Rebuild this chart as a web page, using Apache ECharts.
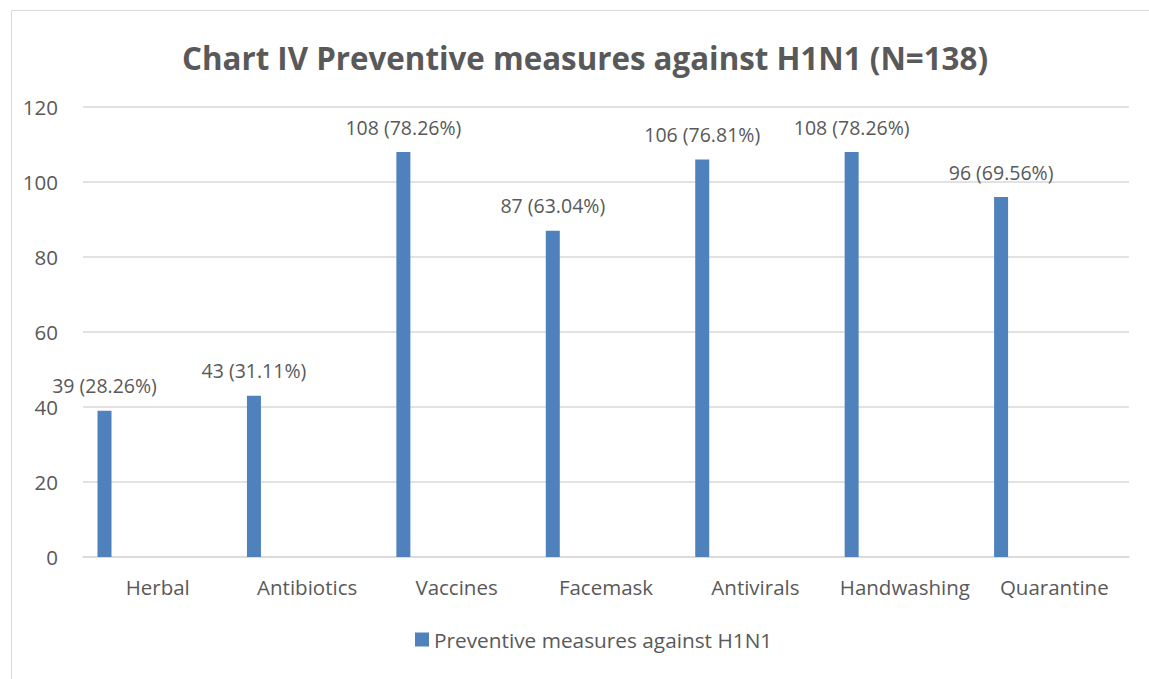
<!DOCTYPE html>
<html>
<head>
<meta charset="utf-8">
<script src="https://cdn.jsdelivr.net/npm/echarts@6/dist/echarts.min.js"></script>
<style>
  html, body { margin: 0; padding: 0; background: #fff; }
  #chart { width: 1149px; height: 679px; }
</style>
</head>
<body>
<div id="chart"></div>
<script>
var categories = ['Herbal', 'Antibiotics', 'Vaccines', 'Facemask', 'Antivirals', 'Handwashing', 'Quarantine'];
var counts = [39, 43, 108, 87, 106, 108, 96];
var percents = ['28.26%', '31.11%', '78.26%', '63.04%', '76.81%', '78.26%', '69.56%'];
var yTicks = [0, 20, 40, 60, 80, 100, 120];

var ink = '#595959';
var font = '"Open Sans", "Noto Sans", sans-serif';

var chart = echarts.init(document.getElementById('chart'), null, { renderer: 'svg' });
chart.setOption({
  animation: false,
  textStyle: { fontFamily: font },
  title: {
    text: 'Chart IV Preventive measures against H1N1 (N=138)',
    left: 177, top: 37,
    textStyle: { color: ink, fontSize: 31.3, fontWeight: 'bold', fontFamily: font }
  },
  graphic: [{
    type: 'rect', left: 9, top: 8,
    shape: { width: 1138, height: 669 },
    style: { fill: 'none', stroke: '#d9d9d9', lineWidth: 1 }
  }],
  legend: {
    data: ['Preventive measures against H1N1'],
    bottom: 24, left: 410,
    itemWidth: 14, itemHeight: 14, icon: 'rect', itemGap: 10,
    textStyle: { color: ink, fontSize: 20.8, fontFamily: font }
  },
  grid: { left: 83, right: 20, top: 107, bottom: 122, containLabel: false },
  xAxis: {
    type: 'category', data: categories,
    axisLine: { lineStyle: { color: '#d9d9d9', width: 1.5 } },
    axisTick: { show: false },
    axisLabel: { color: ink, fontSize: 20.5, margin: 19, interval: 0 }
  },
  yAxis: {
    type: 'value', min: yTicks[0], max: yTicks[yTicks.length - 1], interval: 20,
    axisLine: { show: false }, axisTick: { show: false },
    axisLabel: { color: ink, fontSize: 20.5, margin: 25 },
    splitLine: { lineStyle: { color: '#d9d9d9', width: 1.5 } }
  },
  series: [
    {
      name: 'Preventive measures against H1N1', type: 'bar',
      data: counts, barWidth: 14, barGap: '660%',
      itemStyle: { color: '#4f81bd' },
      label: {
        show: true, position: 'top', distance: 15, color: ink, fontSize: 19.5,
        formatter: function(p) { return p.value + ' (' + percents[p.dataIndex] + ')'; }
      }
    },
    {
      name: 'spacer', type: 'bar', barWidth: 14,
      data: categories.map(function() { return '-'; })
    }
  ]
});
</script>
</body>
</html>
